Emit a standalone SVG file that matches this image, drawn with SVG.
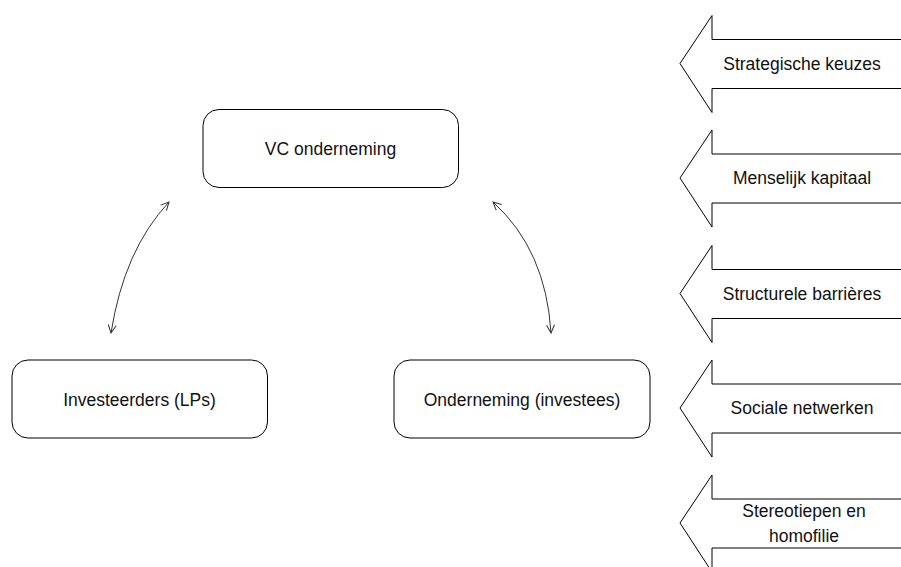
<svg xmlns="http://www.w3.org/2000/svg" width="901" height="567" viewBox="0 0 901 567">
  <style>
    .box { fill: #ffffff; stroke: #000000; stroke-width: 1; }
    .factor { fill: #ffffff; stroke: #000000; stroke-width: 1; stroke-linejoin: miter; }
    .label { font-family: "Liberation Sans", Arial, sans-serif; font-size: 17.5px; fill: #111111; text-anchor: middle; }
    .link { fill: none; stroke: #333333; stroke-width: 1; marker-start: url(#open-head); marker-end: url(#open-head); }
  </style>
  <defs>
    <marker id="open-head" viewBox="0 0 10 10" refX="9" refY="5" markerWidth="10" markerHeight="10" markerUnits="userSpaceOnUse" orient="auto-start-reverse">
      <path d="M1,1 L9,5 L1,9" fill="none" stroke="#333333" stroke-width="1"/>
    </marker>
  </defs>

  <rect width="901" height="567" fill="#ffffff"/>

  <!-- central actors -->
  <g id="vc-onderneming">
    <rect class="box" x="203" y="109.5" width="255.5" height="78" rx="16" ry="16"/>
    <text class="label" x="330.5" y="155">VC onderneming</text>
  </g>
  <g id="investeerders">
    <rect class="box" x="12" y="360" width="255.5" height="78" rx="16" ry="16"/>
    <text class="label" x="139.5" y="405.5">Investeerders (LPs)</text>
  </g>
  <g id="onderneming">
    <rect class="box" x="394" y="360" width="256" height="78" rx="16" ry="16"/>
    <text class="label" x="522" y="405.5">Onderneming (investees)</text>
  </g>

  <!-- two-way relations -->
  <g id="connectors">
    <path class="link" d="M111,333 Q124,250 169,202"/>
    <path class="link" d="M551,333 Q546,250 493,202"/>
  </g>

  <!-- influencing factors, block arrows pointing left -->
  <g id="factor-strategie">
    <polygon class="factor" points="680,63.5 712,15.5 712,39.5 910,39.5 910,88.5 712,88.5 712,112.5"/>
    <text class="label" x="802" y="69.5">Strategische keuzes</text>
  </g>
  <g id="factor-kapitaal">
    <polygon class="factor" points="680,178 712,130 712,154 910,154 910,203 712,203 712,227"/>
    <text class="label" x="802" y="184">Menselijk kapitaal</text>
  </g>
  <g id="factor-barrieres">
    <polygon class="factor" points="680,293.5 712,245.5 712,269.5 910,269.5 910,318.5 712,318.5 712,342.5"/>
    <text class="label" x="802" y="299.5">Structurele barrières</text>
  </g>
  <g id="factor-netwerken">
    <polygon class="factor" points="680,408 712,360 712,384 910,384 910,433 712,433 712,457"/>
    <text class="label" x="802" y="414">Sociale netwerken</text>
  </g>
  <g id="factor-stereotiepen">
    <polygon class="factor" points="680,523 712,475 712,499 910,499 910,548 712,548 712,572"/>
    <text class="label" x="804" y="517">Stereotiepen en</text>
    <text class="label" x="804" y="542">homofilie</text>
  </g>
</svg>
